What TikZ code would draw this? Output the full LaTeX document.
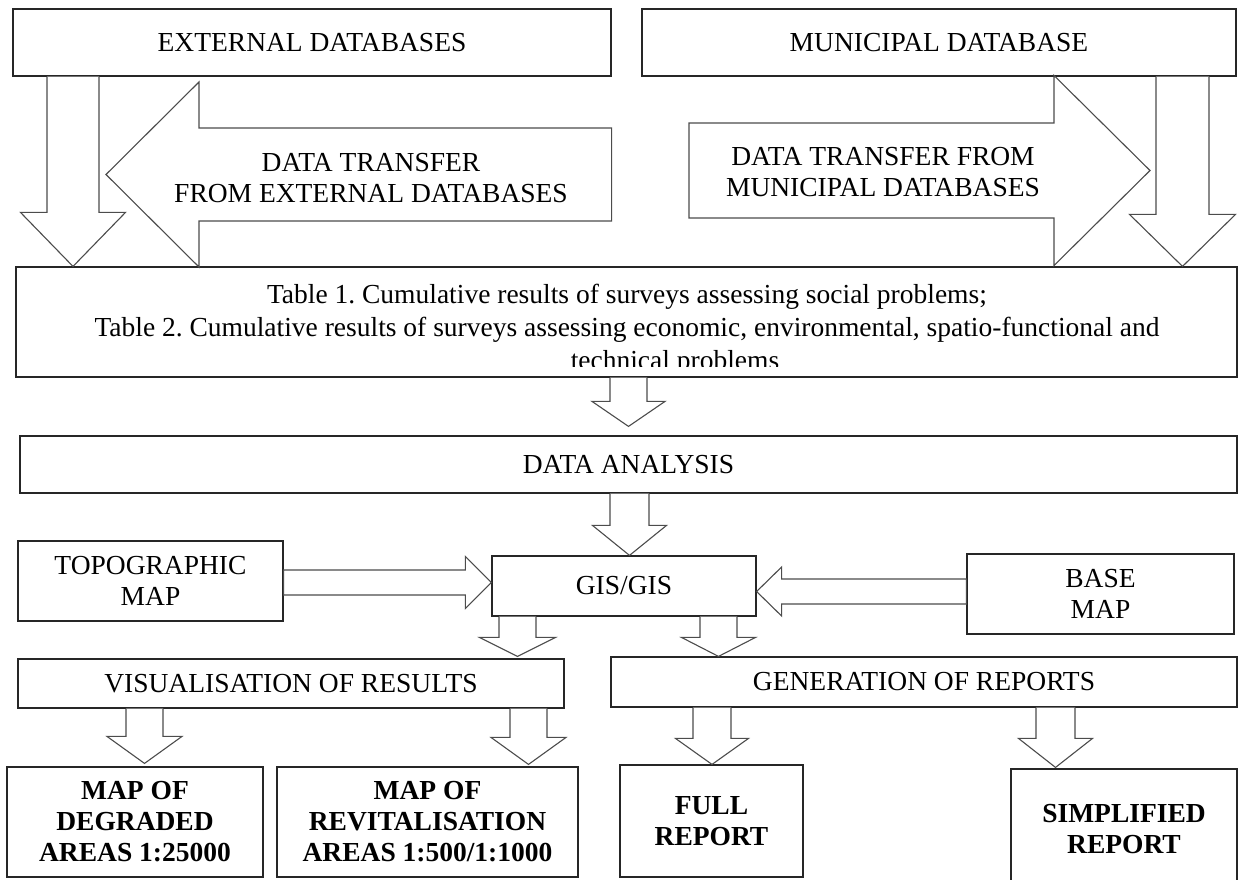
\documentclass[tikz,border=0pt]{standalone}
\usepackage{fontspec}
\setmainfont{Liberation Serif}
\usetikzlibrary{calc}
\frenchspacing
% block arrows, sizes in px (1px = 1pt here)
\def\fatdown(#1,#2,#3,#4,#5,#6,#7){
  \draw[fatarrow] let \p1=(#1.south), \p2=(#2.north) in
    (#3-#4,\y1) -- (#3-#4,\y2+#7pt+#6pt) -- (#3-#5,\y2+#7pt+#6pt) -- (#3,\y2+#7pt)
    -- (#3+#5,\y2+#7pt+#6pt) -- (#3+#4,\y2+#7pt+#6pt) -- (#3+#4,\y1);
}
\def\fatright(#1,#2,#3,#4,#5,#6){
  \draw[fatarrow] let \p1=(#1), \p2=(#2) in
    (\x1,#3-#4) -- (\x2-#6pt,#3-#4) -- (\x2-#6pt,#3-#5) -- (\x2,#3)
    -- (\x2-#6pt,#3+#5) -- (\x2-#6pt,#3+#4) -- (\x1,#3+#4) -- cycle;
}
\def\fatleft(#1,#2,#3,#4,#5,#6){
  \draw[fatarrow] let \p1=(#1), \p2=(#2) in
    (\x1,#3-#4) -- (\x2+#6pt,#3-#4) -- (\x2+#6pt,#3-#5) -- (\x2,#3)
    -- (\x2+#6pt,#3+#5) -- (\x2+#6pt,#3+#4) -- (\x1,#3+#4) -- cycle;
}
\tikzset{
  box/.style={draw=black!85, line width=1.2pt, fill=white, inner sep=0pt, align=center,
    font=\fontsize{27.5}{31.5}\selectfont},
  bbox/.style={box, font=\fontsize{27.5}{31}\selectfont\bfseries},
  fatarrow/.style={draw=black!70, line width=1.1pt, fill=white},
  arrowtext/.style={inner sep=0pt, align=center, font=\fontsize{27.5}{31}\selectfont},
}

\begin{document}
\begin{tikzpicture}[x=1pt,y=-1pt]
\useasboundingbox (0,0) rectangle (1238,879);

% sources
\node[box, minimum width=598pt, minimum height=67pt] (ext) at (312,42.5) {EXTERNAL DATABASES};
\node[box, minimum width=594pt, minimum height=67pt] (mun) at (939,42.5) {MUNICIPAL DATABASE};

% tables
\node[box, minimum width=1221pt, minimum height=110pt] (tab) at (626.5,322) {};
\begin{scope}
\clip (16,267) rectangle (1237,366);
\node[inner sep=0pt, align=center, font=\fontsize{27.5}{33}\selectfont] (tabtxt) at (627,329.5)
  {Table 1. Cumulative results of surveys assessing social problems;\\
   Table 2. Cumulative results of surveys assessing economic, environmental, spatio-functional and\\
   \hspace*{96pt}technical problems};
\end{scope}

\node[box, minimum width=1217pt, minimum height=57pt] (da) at (628.5,464.5) {DATA ANALYSIS};

% GIS row
\node[box, minimum width=265pt, minimum height=80pt] (topo) at (150.5,581) {TOPOGRAPHIC\\MAP};
\node[box, minimum width=264pt, minimum height=60pt] (gis) at (624,586) {GIS/GIS};
\node[box, minimum width=267pt, minimum height=80pt] (base) at (1100.5,594) {BASE\\MAP};

\node[box, minimum width=546pt, minimum height=49pt] (vis) at (291,683.5) {VISUALISATION OF RESULTS};
\node[box, minimum width=626pt, minimum height=50pt] (gen) at (924,682) {GENERATION OF REPORTS};

% outputs
\node[bbox, minimum width=256pt, minimum height=110pt] (deg) at (135,822) {MAP OF\\DEGRADED\\AREAS 1:25000};
\node[bbox, minimum width=301pt, minimum height=110pt] (rev) at (427.5,822) {MAP OF\\REVITALISATION\\AREAS 1:500/1:1000};
\node[bbox, minimum width=183pt, minimum height=112pt] (full) at (711.5,821) {FULL\\REPORT};
\node[bbox, minimum width=226pt, minimum height=121pt] (simp) at (1124,829.5) {SIMPLIFIED\\REPORT};

% data transfer arrows
\coordinate (extip) at (106,174.5);
\fatleft(ext.east,extip,174.5,46.5,92.5,93)
\node[arrowtext] (extxt) at (371,178) {DATA TRANSFER\\FROM EXTERNAL DATABASES};
\coordinate (mutail) at (689,170.5);
\coordinate (mutip) at (1150,170.5);
\fatright(mutail,mutip,170.5,47.5,95,96)
\node[arrowtext] (mutxt) at (883,172) {DATA TRANSFER FROM\\MUNICIPAL DATABASES};

% down arrows
\fatdown(ext,tab,73,26,52.5,54,0)
\fatdown(mun,tab,1182.5,26.5,53,52,0)
\fatdown(tab,da,628.5,18.5,36.5,25,9)
\fatdown(da,gis,629.5,19.5,37,30,0)
\fatdown(gis,vis,517.5,18.5,38,19,2)
\fatdown(gis,gen,718.5,18.5,37,19,0)
\fatdown(vis,deg,144.5,18.5,37.5,27,3)
\fatdown(vis,rev,528.5,18.5,37.5,27,2)
\fatdown(gen,full,712,19,36.5,26,0)
\fatdown(gen,simp,1055.5,19.5,37,29,1)

% map inputs
\fatright(topo.east,gis.west,582.5,12.5,26,26)
\fatleft(base.west,gis.east,591.5,12.5,24.5,25)
\end{tikzpicture}
\end{document}
